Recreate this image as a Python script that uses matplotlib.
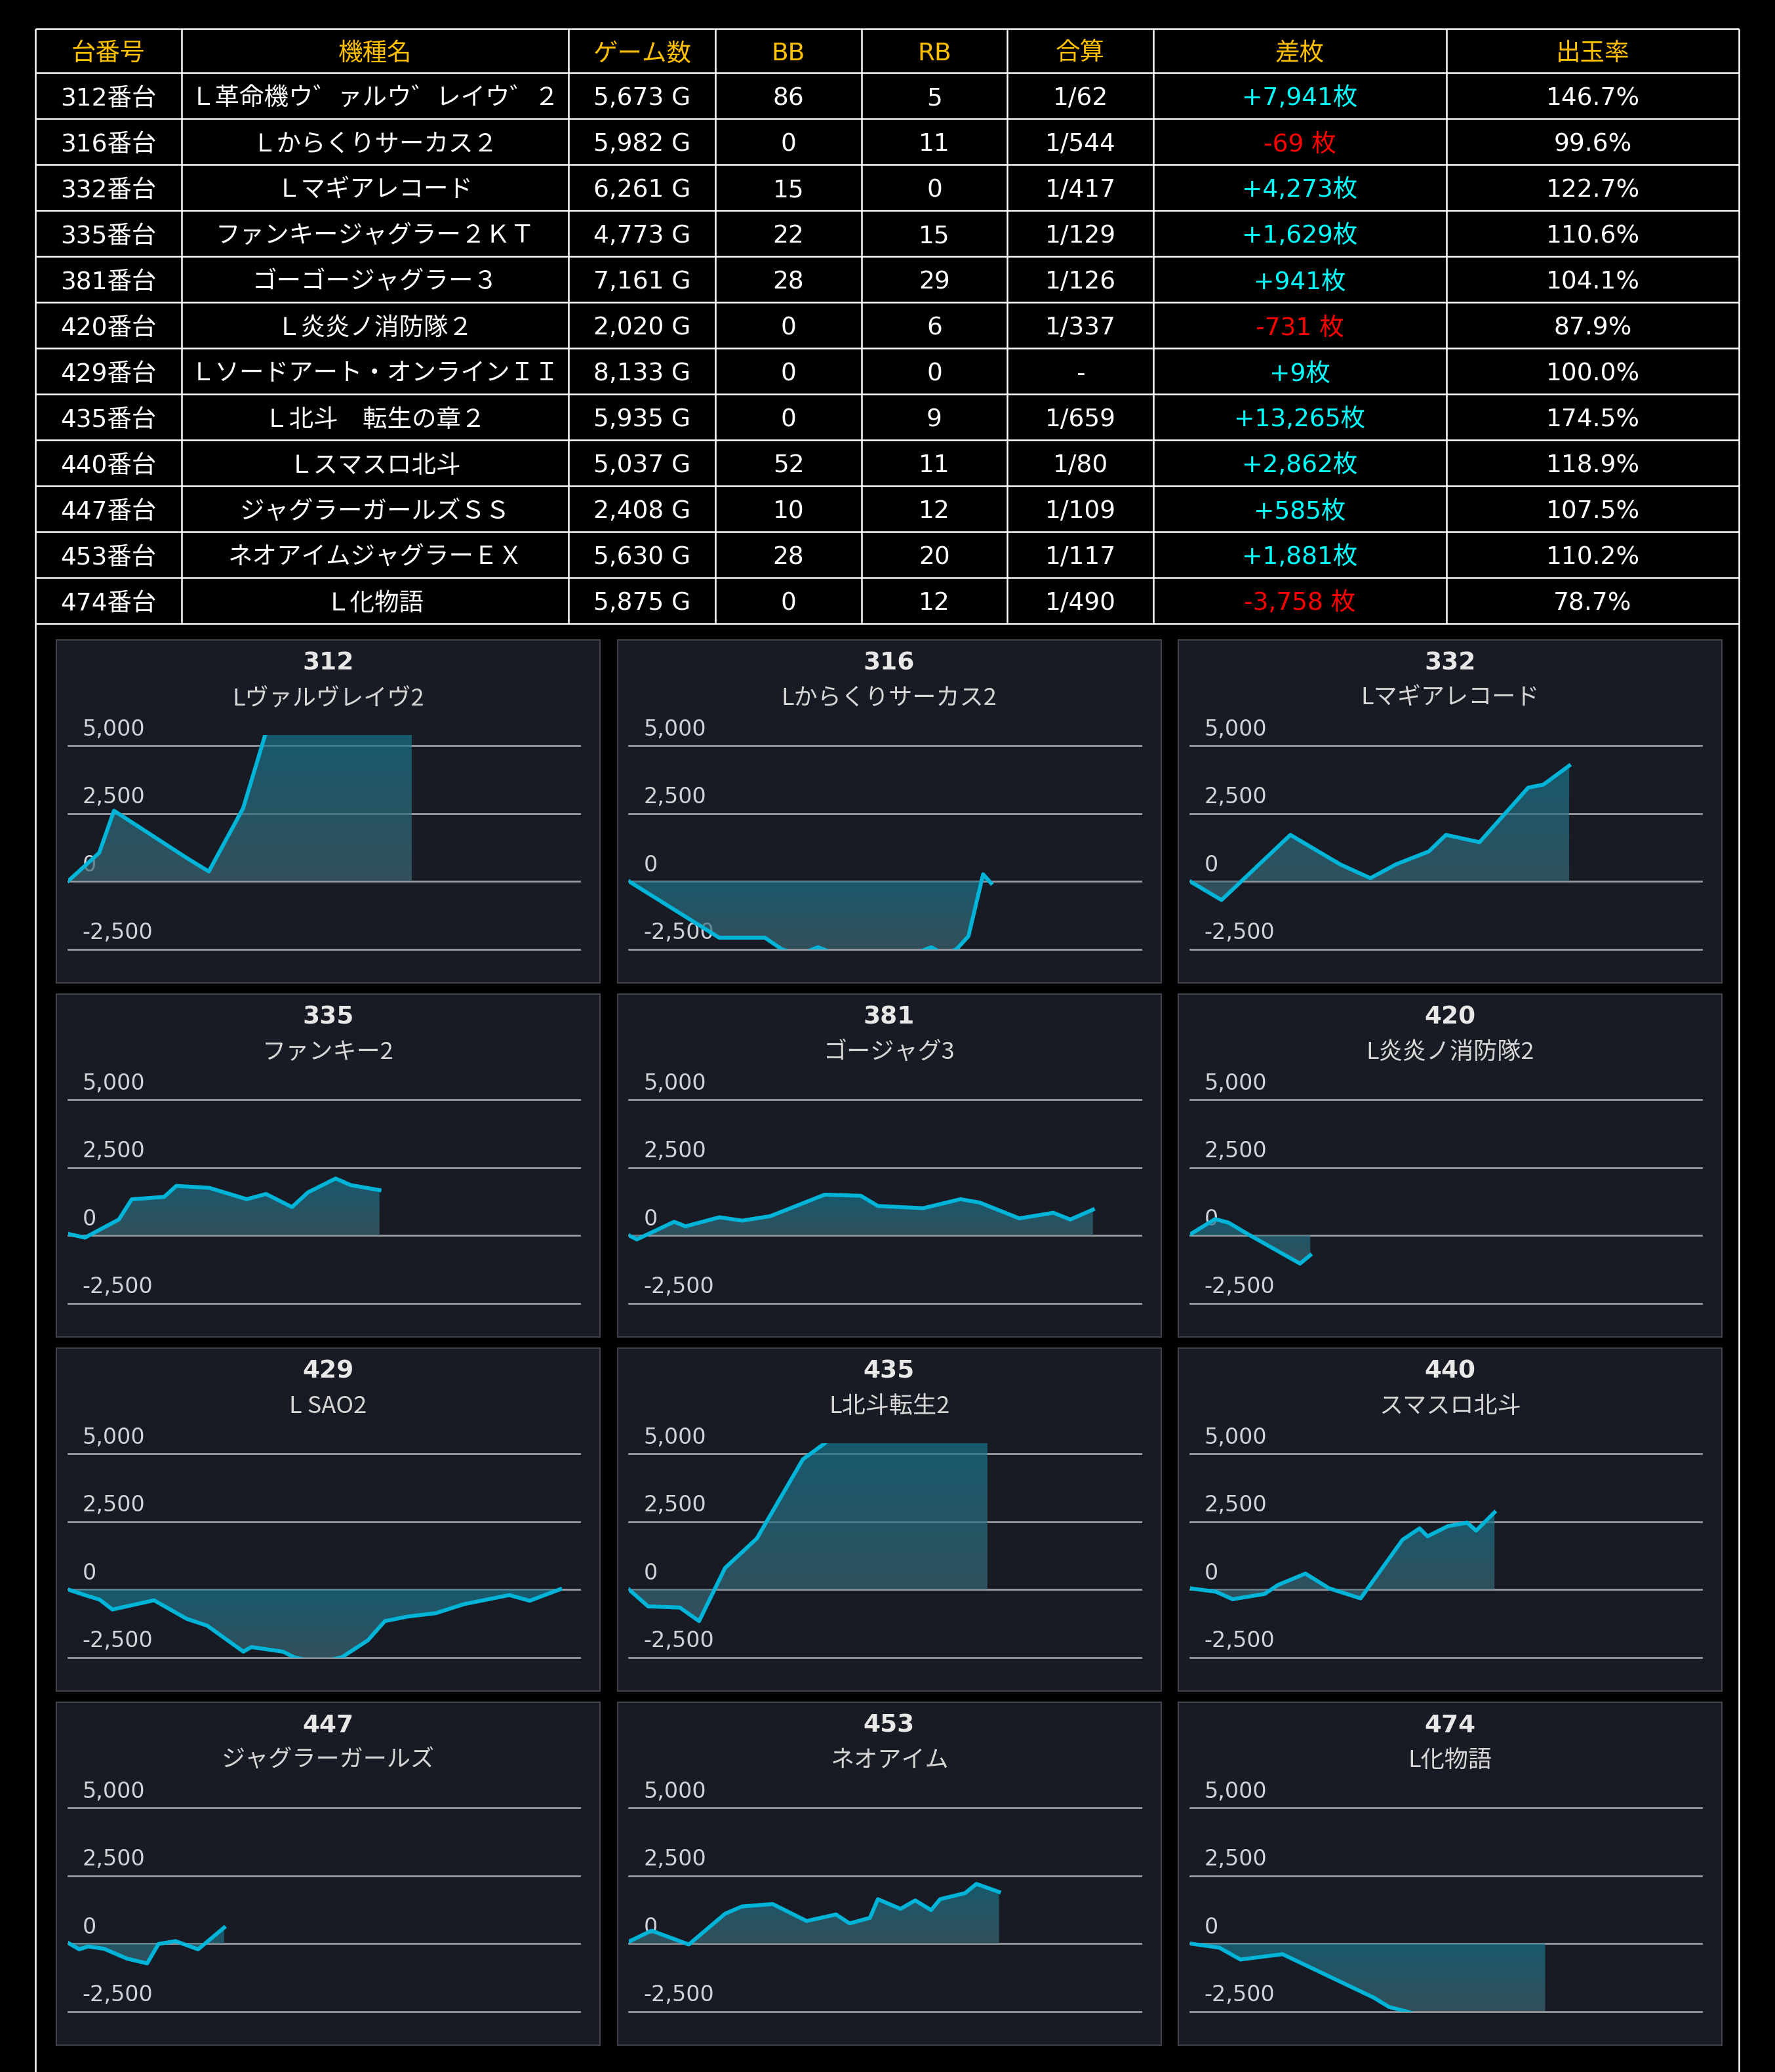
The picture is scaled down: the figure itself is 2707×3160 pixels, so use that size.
import matplotlib
matplotlib.use("Agg")
import matplotlib.pyplot as plt
import numpy as np
from matplotlib.patches import Rectangle, Polygon
from matplotlib.colors import to_rgba

plt.rcParams["font.family"] = ["DejaVu Sans", "Noto Sans CJK JP"]

# ---- table data ----
headers = ["台番号", "機種名", "ゲーム数", "BB", "RB", "合算", "差枚", "出玉率"]
machine_nos = ["312番台", "316番台", "332番台", "335番台", "381番台", "420番台",
               "429番台", "435番台", "440番台", "447番台", "453番台", "474番台"]
machine_names = ["Ｌ革命機ウ゛ァルウ゛レイウ゛２", "Ｌからくりサーカス２", "Ｌマギアレコード",
                 "ファンキージャグラー２ＫＴ", "ゴーゴージャグラー３", "Ｌ炎炎ノ消防隊２",
                 "Ｌソードアート・オンラインＩＩ", "Ｌ北斗　転生の章２", "Ｌスマスロ北斗",
                 "ジャグラーガールズＳＳ", "ネオアイムジャグラーＥＸ", "Ｌ化物語"]
game_counts = ["5,673 G", "5,982 G", "6,261 G", "4,773 G", "7,161 G", "2,020 G",
               "8,133 G", "5,935 G", "5,037 G", "2,408 G", "5,630 G", "5,875 G"]
bb_counts = [86, 0, 15, 22, 28, 0, 0, 0, 52, 10, 28, 0]
rb_counts = [5, 11, 0, 15, 29, 6, 0, 9, 11, 12, 20, 12]
combined = ["1/62", "1/544", "1/417", "1/129", "1/126", "1/337",
            "-", "1/659", "1/80", "1/109", "1/117", "1/490"]
diff_coins = ["+7,941枚", "-69 枚", "+4,273枚", "+1,629枚", "+941枚", "-731 枚",
              "+9枚", "+13,265枚", "+2,862枚", "+585枚", "+1,881枚", "-3,758 枚"]
payout = ["146.7%", "99.6%", "122.7%", "110.6%", "104.1%", "87.9%",
          "100.0%", "174.5%", "118.9%", "107.5%", "110.2%", "78.7%"]

# ---- chart data (x: games, y: coin difference) ----
panel_ids = ["312", "316", "332", "335", "381", "420",
             "429", "435", "440", "447", "453", "474"]
panel_names = ["Lヴァルヴレイヴ2", "Lからくりサーカス2", "Lマギアレコード",
               "ファンキー2", "ゴージャグ3", "L炎炎ノ消防隊2",
               "L SAO2", "L北斗転生2", "スマスロ北斗",
               "ジャグラーガールズ", "ネオアイム", "L化物語"]

x312 = [0, 520, 765, 1990, 2340, 2910, 3276, 3600, 4500, 5200, 5712]
y312 = [0, 1050, 2600, 836, 362, 2690, 5390, 6500, 7300, 7700, 7941]
x316 = [0, 1500, 2260, 2538, 2820, 3140, 3480, 4600, 5020, 5264, 5452, 5640, 5884, 6016]
y316 = [0, -2080, -2080, -2500, -2715, -2430, -2715, -2800, -2430, -2715, -2480, -2026, 259, -69]
x332 = [0, 526, 1670, 2500, 3000, 3420, 3970, 4254, 4812, 5620, 5875, 6300]
y332 = [0, -690, 1710, 620, 115, 620, 1100, 1710, 1440, 3450, 3565, 4260]
x335 = [0, 282, 846, 1060, 1598, 1800, 2350, 2970, 3290, 3722, 3986, 4447, 4700, 5175]
y335 = [58, -83, 583, 1330, 1417, 1823, 1750, 1333, 1525, 1042, 1583, 2095, 1850, 1667]
x381 = [0, 132, 752, 940, 1504, 1880, 2350, 3252, 3854, 4136, 4888, 5508, 5828, 6486, 7050, 7332, 7708]
y381 = [0, -150, 500, 333, 667, 542, 708, 1500, 1458, 1083, 1000, 1333, 1208, 625, 833, 583, 950]
x420 = [0, 420, 640, 1000, 1830, 2000]
y420 = [30, 600, 470, 0, -1040, -731]
x429 = [0, 282, 526, 740, 1430, 1974, 2312, 2914, 3046, 3572, 3760, 4150, 4550, 4982,
        5264, 5640, 6110, 6580, 7332, 7670, 8178]
y429 = [0, -208, -375, -740, -400, -1083, -1333, -2292, -2125, -2292, -2500, -2700, -2500, -1875,
        -1167, -1000, -875, -542, -208, -417, 9]
x435 = [0, 320, 846, 1166, 1598, 2124, 2890, 3262, 3800, 4800, 5955]
y435 = [0, -625, -667, -1167, 792, 1875, 4795, 5400, 8000, 11500, 13265]
x440 = [0, 432, 710, 1241, 1466, 1920, 2312, 2836, 3534, 3816, 3948, 4286, 4606, 4756, 5060]
y440 = [42, -83, -360, -167, 167, 585, 42, -330, 1833, 2250, 1958, 2333, 2458, 2167, 2840]
x447 = [0, 188, 338, 602, 978, 1316, 1504, 1786, 2162, 2594]
y447 = [27, -214, -107, -196, -554, -732, -18, 89, -214, 585]
x453 = [0, 376, 996, 1598, 1880, 2388, 2952, 3440, 3666, 4004, 4136, 4512, 4756, 5020,
        5170, 5584, 5772, 6148]
y453 = [71, 473, -36, 1098, 1366, 1455, 830, 1071, 741, 946, 1634, 1277, 1589, 1232,
        1634, 1857, 2196, 1900]
x474 = [0, 489, 840, 1540, 3060, 3309, 3591, 4500, 5903]
y474 = [0, -152, -590, -393, -2000, -2339, -2500, -3100, -3758]

series_x = [x312, x316, x332, x335, x381, x420, x429, x435, x440, x447, x453, x474]
series_y = [y312, y316, y332, y335, y381, y420, y429, y435, y440, y447, y453, y474]
y_ticks = [-2500, 0, 2500, 5000]

# ---- figure / layout (pixel units) ----
W, H = 2707, 3160
fig = plt.figure(figsize=(W / 100, H / 100), dpi=100, facecolor="black")
base = fig.add_axes([0, 0, 1, 1])
base.set_xlim(0, W)
base.set_ylim(H, 0)
base.axis("off")

col_edges = [53.5, 277, 867, 1091, 1314, 1536, 1759, 2206, 2652]
table_top, header_h, row_h = 44, 66.5, 70
row_edges = [table_top, table_top + header_h] + \
    [table_top + header_h + row_h * (i + 1) for i in range(len(machine_nos))]

base.hlines(row_edges, col_edges[0], col_edges[-1], color="white", lw=1.8)
base.vlines(col_edges[1:-1], row_edges[0], row_edges[-1], color="white", lw=1.8)
base.vlines([col_edges[0], col_edges[-1]], table_top, H, color="white", lw=1.8)

col_centers = [(a + b) / 2 for a, b in zip(col_edges[:-1], col_edges[1:])]
for cx, head in zip(col_centers, headers):
    base.text(cx, table_top + header_h / 2 + 5, head, ha="center", va="center",
              fontsize=27, color="#ffc000")

columns = [machine_nos, machine_names, game_counts, bb_counts, rb_counts,
           combined, diff_coins, payout]
for i in range(len(machine_nos)):
    cy = row_edges[i + 1] + row_h / 2 + 5
    for j, col in enumerate(columns):
        txt = str(col[i])
        color = "white"
        if j == 6:
            color = "#ff0000" if txt.startswith("-") else "#00ffff"
        base.text(col_centers[j], cy, txt, ha="center", va="center",
                  fontsize=27, color=color)

# ---- small charts ----
panel_w, panel_h = 829, 523
panel_left0, panel_top0 = 86, 976
pitch_x, pitch_y = 855.5, 540
y_top = 5390
top_col = np.array(to_rgba("#17748c"))
bot_col = np.array(to_rgba("#3f6774"))

for k in range(len(panel_ids)):
    r, c = divmod(k, 3)
    px = panel_left0 + c * pitch_x
    py = panel_top0 + r * pitch_y
    base.add_patch(Rectangle((px, py), panel_w, panel_h, facecolor="#181b24",
                             edgecolor="#3f424a", lw=1.5))
    base.text(px + panel_w / 2, py + 36, panel_ids[k], ha="center", va="center",
              fontsize=27, fontweight="bold", color="#e8e8e8")
    base.text(px + panel_w / 2, py + 89, panel_names[k], ha="center", va="center",
              fontsize=26, color="#d6d6d6",
              family=["Noto Sans CJK JP", "DejaVu Sans"])

    left, right = px + 17.6, px + 798
    top, bottom = py + 145, py + 471.5
    ax = fig.add_axes([left / W, 1 - bottom / H, (right - left) / W, (bottom - top) / H])
    ax.axis("off")

    x = np.array(series_x[k], dtype=float)
    y = np.array(series_y[k], dtype=float)

    for v in y_ticks:
        ax.axhline(v, color="#9b9ca0", lw=2, zorder=1, clip_on=False)
        ax.annotate(f"{v:,}", xy=(0, v), xycoords=ax.get_yaxis_transform(),
                    xytext=(16, 6), textcoords="offset points", ha="left", va="bottom",
                    fontsize=24, color="#d2d3d6", zorder=1)

    # gradient fill between the line and zero
    poly = Polygon(np.column_stack([np.r_[x, x[-1], x[0]], np.r_[y, 0, 0]]),
                   closed=True, facecolor="none", edgecolor="none")
    ax.add_patch(poly)
    lo = max(min(y.min(), 0), -2500)
    hi = min(max(y.max(), 0), y_top)
    t = np.linspace(0, 1, 256)[:, None, None]
    rgba = bot_col * (1 - t) + top_col * t
    rgba[..., 3] = 0.7
    im = ax.imshow(rgba, extent=[x[0], x[-1], lo, hi], origin="lower",
                   aspect="auto", zorder=2, interpolation="bilinear")
    im.set_clip_path(poly)

    ax.plot(x, y, color="#00b4d8", lw=4.3, zorder=3, solid_joinstyle="round")
    ax.set_xlim(0, 8500)
    ax.set_ylim(-2500, y_top)

fig.savefig("out.png", dpi=100, facecolor="black")
